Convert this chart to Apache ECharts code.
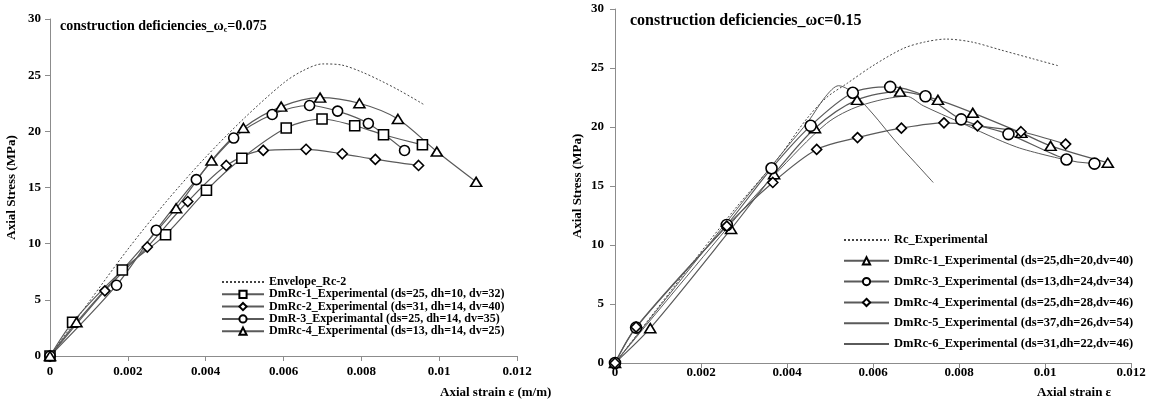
<!DOCTYPE html>
<html><head><meta charset="utf-8">
<script src="https://cdn.jsdelivr.net/npm/echarts@6/dist/echarts.min.js"></script>
<style>html,body{margin:0;padding:0;background:#fff}#c{width:1151px;height:401px}</style>
</head><body><div id="c"></div>
<script>
// ---------- DATA ----------
const xTicks = [0, 0.002, 0.004, 0.006, 0.008, 0.01, 0.012];
const yTicks = [0, 5, 10, 15, 20, 25, 30];

// Left chart (omega_c = 0.075)
const envelopeRc2 = [[0,0],[0.001,4.8],[0.002,9.5],[0.003,13.8],[0.004,17.7],[0.005,21.2],[0.006,24.3],[0.0065,25.4],[0.007,26.0],[0.0075,25.9],[0.008,25.3],[0.0085,24.5],[0.009,23.6],[0.0096,22.4]];
const dmRc1 = [[0,0],[0.00058,3.0],[0.00186,7.65],[0.00297,10.8],[0.00402,14.75],[0.00493,17.6],[0.00607,20.3],[0.00699,21.1],[0.00783,20.5],[0.00857,19.7],[0.00957,18.8]];
const dmRc2 = [[0,0],[0.00141,5.8],[0.0025,9.7],[0.00354,13.75],[0.00453,16.96],[0.00548,18.3],[0.00658,18.4],[0.00751,18.0],[0.00836,17.5],[0.00947,16.96]];
const dmR3 = [[0,0],[0.00171,6.3],[0.00273,11.2],[0.00376,15.7],[0.00472,19.4],[0.00571,21.5],[0.00667,22.3],[0.00739,21.8],[0.00818,20.7],[0.00911,18.3]];
const dmRc4L = [[0,0],[0.00068,3.0],[0.00324,13.15],[0.00415,17.4],[0.00497,20.3],[0.00594,22.2],[0.00694,23.0],[0.00795,22.5],[0.00894,21.1],[0.00994,18.2],[0.01095,15.5]];

// Right chart (omega_c = 0.15)
const rcExperimental = [[0,0],[0.001,4.7],[0.0019,8.95],[0.0028,13.1],[0.00376,17.2],[0.00446,20.7],[0.00492,22.5],[0.0054,23.7],[0.006,25.2],[0.0067,26.65],[0.0072,27.2],[0.0077,27.45],[0.0083,27.2],[0.009,26.5],[0.0097,25.8],[0.0103,25.2]];
const dmRc1R = [[0,0],[0.00082,2.95],[0.0027,11.36],[0.0037,16.0],[0.00465,19.9],[0.00563,22.3],[0.00663,23.0],[0.00751,22.3],[0.00832,21.2],[0.00945,19.5],[0.01013,18.4],[0.01146,16.97]];
const dmRc3R = [[0,0],[0.00049,3.0],[0.0026,11.7],[0.00364,16.5],[0.00455,20.1],[0.00553,22.9],[0.0064,23.4],[0.00722,22.6],[0.00805,20.65],[0.00915,19.4],[0.0105,17.25],[0.01115,16.9]];
const dmRc4R = [[0,0],[0.00049,3.05],[0.0026,11.6],[0.00367,15.3],[0.00469,18.1],[0.00564,19.1],[0.00666,19.9],[0.00765,20.35],[0.00843,20.1],[0.00944,19.6],[0.01048,18.55]];
const dmRc5R = [[0,0],[0.0015,6.9],[0.003,13.8],[0.004,18.3],[0.0045,20.5],[0.0049,22.6],[0.0052,23.5],[0.0055,23.0],[0.006,21.1],[0.0065,18.9],[0.007,16.9],[0.0074,15.3]];
const dmRc6R = [[0,0],[0.0015,6.6],[0.003,13.1],[0.0037,15.9],[0.00492,20.3],[0.0057,21.8],[0.00678,22.6],[0.00717,21.8],[0.00802,20.4],[0.00934,18.3],[0.0105,17.2]];

// ---------- CHART ----------
const FONT = 'Liberation Serif';
const LINE = '#5a5a5a';
const chart = echarts.init(document.getElementById('c'), null, {renderer: 'canvas'});
const fmt = v => parseFloat(v.toFixed(3)).toString();

function xAx(idx, margin) {
  return {
    gridIndex: idx, type: 'value', min: 0, max: 0.012, interval: 0.002,
    axisLine: {lineStyle: {color: '#8c8c8c', width: 1}},
    axisTick: {show: true, length: 5, lineStyle: {color: '#8c8c8c'}},
    splitLine: {show: false},
    axisLabel: {formatter: fmt, color: '#000', fontFamily: FONT, fontWeight: 'bold', fontSize: 13, margin: margin}
  };
}
function yAx(idx, gap, margin) {
  return {
    gridIndex: idx, type: 'value', min: 0, max: 30, interval: 5,
    name: 'Axial Stress (MPa)', nameLocation: 'middle', nameGap: gap, nameRotate: 90,
    nameTextStyle: {color: '#000', fontFamily: FONT, fontWeight: 'bold', fontSize: 13},
    axisLine: {show: true, lineStyle: {color: '#8c8c8c', width: 1}},
    axisTick: {show: true, length: 5, lineStyle: {color: '#8c8c8c'}},
    splitLine: {show: false},
    axisLabel: {color: '#000', fontFamily: FONT, fontWeight: 'bold', fontSize: 13, margin: margin}
  };
}
function marked(name, data, sym, size, xi) {
  return {
    name: name, type: 'line', xAxisIndex: xi, yAxisIndex: xi, data: data,
    smooth: 0.3,
    symbol: sym, symbolSize: size, showSymbol: true,
    lineStyle: {color: LINE, width: 1.2},
    itemStyle: {color: '#fff', borderColor: '#000', borderWidth: 1.6},
    emphasis: {disabled: true}, z: 3
  };
}
function plain(name, data, xi, dashed) {
  return {
    name: name, type: 'line', xAxisIndex: xi, yAxisIndex: xi, data: data,
    smooth: 0.3, showSymbol: false, symbol: 'none',
    lineStyle: {color: dashed ? '#444' : LINE, width: 1, type: dashed ? [2, 2] : 'solid'},
    itemStyle: {color: dashed ? '#444' : LINE},
    emphasis: {disabled: true}, z: 2
  };
}
const legendText = (fs, lh) => ({color: '#000', fontFamily: FONT, fontWeight: 'bold', fontSize: fs, lineHeight: lh});
const noSym = name => ({name: name, itemStyle: {opacity: 0}});

chart.setOption({
  animation: false,
  backgroundColor: '#fff',
  grid: [
    {left: 50, right: 634, top: 19, bottom: 45},
    {left: 615, right: 20, top: 9, bottom: 38}
  ],
  xAxis: [xAx(0, 9), xAx(1, 3)],
  yAxis: [yAx(0, 32, 9), yAx(1, 31, 11)],
  title: [
    {left: 60, top: 19, padding: 0, text: '{t|construction deficiencies_ω}{s|c}{t|=0.075}',
     textStyle: {rich: {
       t: {fontFamily: FONT, fontWeight: 'bold', fontSize: 14, color: '#000'},
       s: {fontFamily: FONT, fontWeight: 'bold', fontSize: 8, color: '#000', padding: [7, 0, 0, 0]}
     }}},
    {left: 630, top: 13, padding: 0, text: 'construction deficiencies_ωc=0.15',
     textStyle: {fontFamily: FONT, fontWeight: 'bold', fontSize: 16, color: '#000'}}
  ],
  legend: [
    {orient: 'vertical', left: 221, top: 276, padding: 0, itemWidth: 42, itemHeight: 9, itemGap: 0.3,
     textStyle: legendText(12, 11.5), selectedMode: false,
     data: [noSym('Envelope_Rc-2'), 'DmRc-1_Experimental (ds=25, dh=10, dv=32)', 'DmRc-2_Experimental (ds=31, dh=14, dv=40)',
            'DmR-3_Experimantal (ds=25, dh=14, dv=35)', 'DmRc-4_Experimental (ds=13, dh=14, dv=25)']},
    {orient: 'vertical', left: 843, top: 233, padding: 0, itemWidth: 45, itemHeight: 9, itemGap: 6.8,
     textStyle: legendText(12.5, 14), selectedMode: false,
     data: [noSym('Rc_Experimental'), 'DmRc-1_Experimental (ds=25,dh=20,dv=40)', 'DmRc-3_Experimental (ds=13,dh=24,dv=34)',
            'DmRc-4_Experimental (ds=25,dh=28,dv=46)', noSym('DmRc-5_Experimental (ds=37,dh=26,dv=54)'), noSym('DmRc-6_Experimental (ds=31,dh=22,dv=46)')]}
  ],
  graphic: [
    {type: 'text', left: 440, top: 386, style: {text: 'Axial strain ε (m/m)', font: 'bold 13px "Liberation Serif"', fill: '#000'}},
    {type: 'text', left: 1037, top: 386, style: {text: 'Axial strain ε', font: 'bold 13px "Liberation Serif"', fill: '#000'}}
  ],
  series: [
    plain('Envelope_Rc-2', envelopeRc2, 0, true),
    marked('DmRc-1_Experimental (ds=25, dh=10, dv=32)', dmRc1, 'rect', 10, 0),
    marked('DmRc-2_Experimental (ds=31, dh=14, dv=40)', dmRc2, 'diamond', 10, 0),
    marked('DmR-3_Experimantal (ds=25, dh=14, dv=35)', dmR3, 'circle', 10, 0),
    marked('DmRc-4_Experimental (ds=13, dh=14, dv=25)', dmRc4L, 'triangle', [11, 9], 0),
    plain('Rc_Experimental', rcExperimental, 1, true),
    marked('DmRc-1_Experimental (ds=25,dh=20,dv=40)', dmRc1R, 'triangle', [11, 9], 1),
    marked('DmRc-3_Experimental (ds=13,dh=24,dv=34)', dmRc3R, 'circle', 11, 1),
    marked('DmRc-4_Experimental (ds=25,dh=28,dv=46)', dmRc4R, 'diamond', 10, 1),
    plain('DmRc-5_Experimental (ds=37,dh=26,dv=54)', dmRc5R, 1, false),
    plain('DmRc-6_Experimental (ds=31,dh=22,dv=46)', dmRc6R, 1, false)
  ]
});
</script>
</body></html>
